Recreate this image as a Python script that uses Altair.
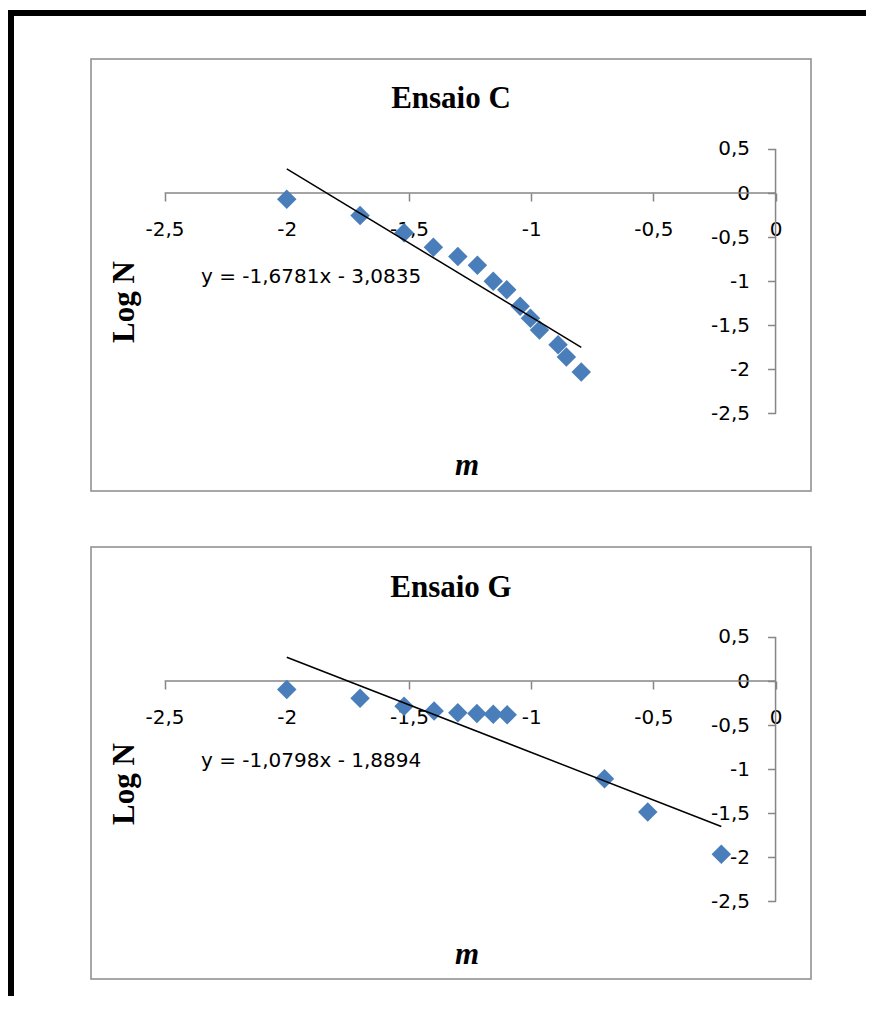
import altair as alt
import pandas as pd

# ---------------- data ----------------
x_ticks = [-2.5, -2.0, -1.5, -1.0, -0.5, 0.0]
y_ticks = [-2.5, -2.0, -1.5, -1.0, -0.5, 0.0, 0.5]

c_title = "Ensaio C"
c_m = [-2.00, -1.70, -1.52, -1.40, -1.30, -1.22, -1.155, -1.10, -1.045, -1.003, -0.966, -0.89, -0.856, -0.795]
c_logn = [-0.07, -0.255, -0.45, -0.615, -0.72, -0.82, -1.00, -1.097, -1.285, -1.42, -1.555, -1.72, -1.86, -2.03]
c_trend_m = [-2.0, -0.795]
c_trend_logn = [0.273, -1.75]
c_equation = "y = -1,6781x - 3,0835"

g_title = "Ensaio G"
g_m = [-2.00, -1.70, -1.52, -1.397, -1.30, -1.222, -1.155, -1.098, -0.70, -0.523, -0.222]
g_logn = [-0.095, -0.195, -0.285, -0.34, -0.36, -0.368, -0.377, -0.384, -1.11, -1.485, -1.965]
g_trend_m = [-2.0, -0.222]
g_trend_logn = [0.27, -1.65]
g_equation = "y = -1,0798x - 1,8894"

x_title = "m"
y_title = "Log N"

# ---------------- styling / layout ----------------
W, H = 720, 432
X_DOMAIN = [-2.801, 0.145]
Y_DOMAIN = [-3.38, 1.52]
AXIS_GREY = "#868686"
BOX_GREY = "#8a8a8a"
BLUE = "#4A7EBB"
LABEL_FONT = "DejaVu Sans"
SERIF = "Liberation Serif"

x0_px = W * (0 - X_DOMAIN[0]) / (X_DOMAIN[1] - X_DOMAIN[0])
y0_px = H * (Y_DOMAIN[1] - 0) / (Y_DOMAIN[1] - Y_DOMAIN[0])

LABEL_EXPR = "replace(toString(datum.value), '.', ',')"

xscale = alt.Scale(domain=X_DOMAIN, nice=False, zero=False)
yscale = alt.Scale(domain=Y_DOMAIN, nice=False, zero=False)

x_axis = alt.Axis(
    values=x_ticks, orient="bottom", offset=-(H - y0_px), domain=False,
    ticks=True, tickSize=8, tickColor=AXIS_GREY, tickWidth=1.5, grid=False,
    labelFont=LABEL_FONT, labelFontSize=20, labelColor="black", labelPadding=18,
    labelExpr=LABEL_EXPR, labelFlush=False, labelOverlap=False, labelBound=False,
    title=None,
)
y_axis = alt.Axis(
    values=y_ticks, orient="left", offset=-x0_px, domain=False,
    ticks=True, tickSize=8, tickColor=AXIS_GREY, tickWidth=1.5, grid=False,
    labelFont=LABEL_FONT, labelFontSize=20, labelColor="black", labelPadding=18,
    labelExpr=LABEL_EXPR, labelFlush=False, labelOverlap=False, labelBound=False,
    title=None,
)


def panel(title, m, logn, trend_m, trend_logn, equation, eq_y, logn_y, title_y, m_y):
    pts = pd.DataFrame({"m": m, "logn": logn})
    trend = pd.DataFrame({"m": trend_m, "logn": trend_logn})
    axes_df = pd.DataFrame({
        "x_lo": [min(x_ticks)], "x_hi": [max(x_ticks)],
        "y_lo": [min(y_ticks)], "y_hi": [max(y_ticks)],
    })
    one = pd.DataFrame({"t": [0]})

    x_rule = alt.Chart(axes_df).mark_rule(color=AXIS_GREY, strokeWidth=1.5).encode(
        x=alt.X("x_lo:Q", scale=xscale, axis=x_axis),
        x2="x_hi:Q",
        y=alt.Y(datum=0, scale=yscale, axis=y_axis),
    )
    y_rule = alt.Chart(axes_df).mark_rule(color=AXIS_GREY, strokeWidth=1.5).encode(
        x=alt.X(datum=0, scale=xscale, axis=x_axis),
        y=alt.Y("y_lo:Q", scale=yscale, axis=y_axis),
        y2="y_hi:Q",
    )
    points = alt.Chart(pts).mark_point(
        shape="diamond", filled=True, size=380, color=BLUE, opacity=1
    ).encode(
        x=alt.X("m:Q", scale=xscale, axis=x_axis),
        y=alt.Y("logn:Q", scale=yscale, axis=y_axis),
    )
    line = alt.Chart(trend).mark_line(color="black", strokeWidth=1.5).encode(
        x=alt.X("m:Q", scale=xscale, axis=x_axis),
        y=alt.Y("logn:Q", scale=yscale, axis=y_axis),
    )
    ttl = alt.Chart(one).mark_text(
        font=SERIF, fontWeight="bold", fontSize=31, color="black",
        align="center", baseline="middle",
    ).encode(x=alt.value(W / 2), y=alt.value(title_y), text=alt.value(title))
    eq = alt.Chart(one).mark_text(
        font=LABEL_FONT, fontSize=20, color="black", align="left", baseline="middle",
    ).encode(x=alt.value(110), y=alt.value(eq_y), text=alt.value(equation))
    ylab = alt.Chart(one).mark_text(
        font=SERIF, fontWeight="bold", fontSize=31, color="black",
        align="center", baseline="middle", angle=270,
    ).encode(x=alt.value(34), y=alt.value(logn_y), text=alt.value(y_title))
    xlab = alt.Chart(one).mark_text(
        font=SERIF, fontWeight="bold", fontStyle="italic", fontSize=31, color="black",
        align="center", baseline="middle",
    ).encode(x=alt.value(376), y=alt.value(m_y), text=alt.value(x_title))

    return alt.layer(x_rule, y_rule, points, line, ttl, eq, ylab, xlab).properties(
        width=W, height=H,
        view=alt.ViewBackground(stroke=BOX_GREY, strokeWidth=1.5, fill="white"),
    )


p1 = panel(c_title, c_m, c_logn, c_trend_m, c_trend_logn, c_equation,
           eq_y=218, logn_y=243, title_y=40, m_y=407)
p2 = panel(g_title, g_m, g_logn, g_trend_m, g_trend_logn, g_equation,
           eq_y=214, logn_y=237, title_y=41, m_y=408)


def bar(w, h, color):
    return alt.Chart(pd.DataFrame({"b": [0]})).mark_rect(color=color, opacity=1).encode(
        x=alt.value(0), x2=alt.value(w), y=alt.value(0), y2=alt.value(h)
    ).properties(width=w, height=h, view=alt.ViewBackground(strokeOpacity=0))


def spacer():
    return alt.Chart(pd.DataFrame({"b": [0]})).mark_rect(opacity=0).encode(
        x=alt.value(0), x2=alt.value(1), y=alt.value(0), y2=alt.value(1)
    ).properties(width=1, height=1, view=alt.ViewBackground(strokeOpacity=0))


top_bar = bar(858, 6, "black")
left_bar = bar(6, 980, "black")

panels = alt.vconcat(spacer(), alt.vconcat(p1, p2, spacing=54), spacing=41)
body = alt.hconcat(left_bar, panels, spacing=76)
chart = alt.vconcat(top_bar, body, spacing=0).properties(
    padding={"left": 0, "top": 2, "right": 0, "bottom": 0}
).configure(background="white")

chart.save("out.html", embed_options={"renderer": "svg", "actions": False})
